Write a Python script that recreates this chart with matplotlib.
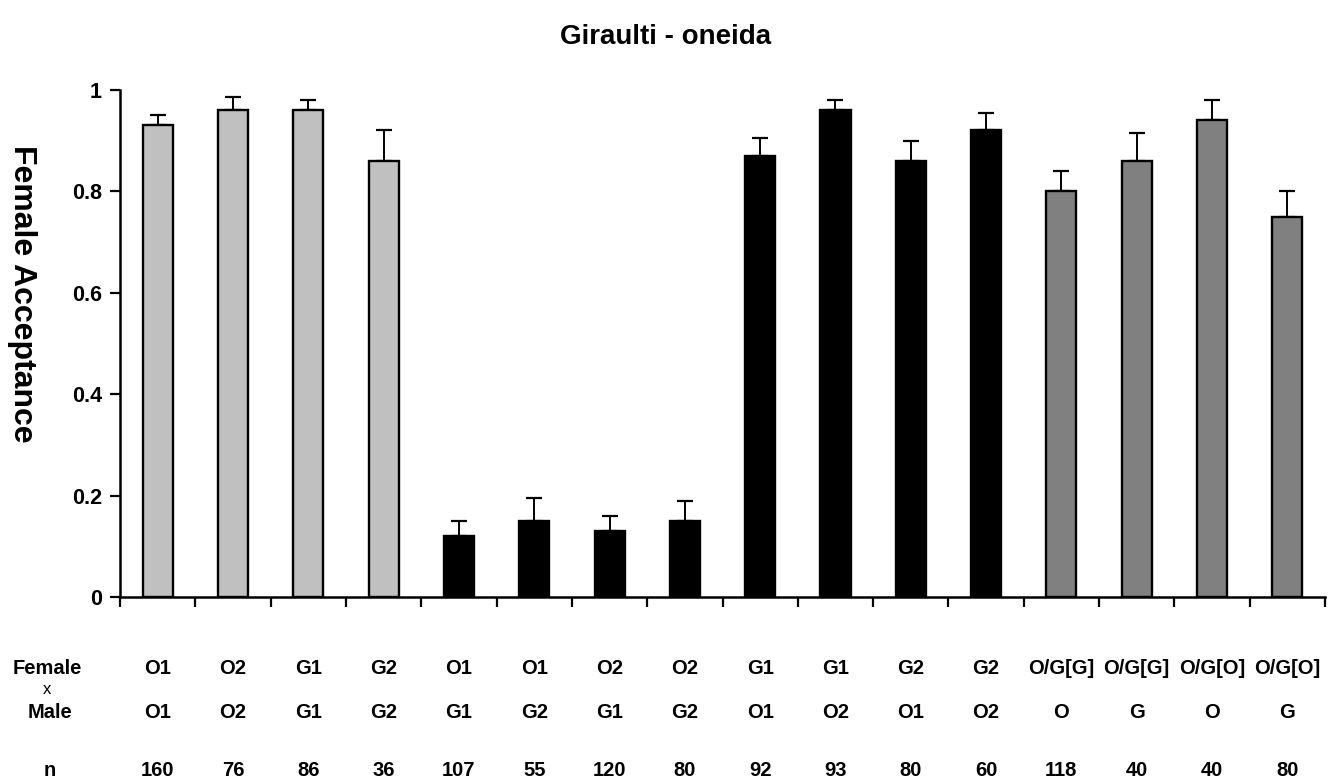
import matplotlib
matplotlib.use("Agg")
import matplotlib.pyplot as plt
import numpy as np

plt.rcParams['font.family'] = ['Liberation Sans', 'DejaVu Sans']
plt.rcParams['font.weight'] = 'bold'

female = ["O1", "O2", "G1", "G2", "O1", "O1", "O2", "O2",
          "G1", "G1", "G2", "G2", "O/G[G]", "O/G[G]", "O/G[O]", "O/G[O]"]
male = ["O1", "O2", "G1", "G2", "G1", "G2", "G1", "G2",
        "O1", "O2", "O1", "O2", "O", "G", "O", "G"]
n_values = [160, 76, 86, 36, 107, 55, 120, 80, 92, 93, 80, 60, 118, 40, 40, 80]
acceptance = [0.93, 0.96, 0.96, 0.86, 0.12, 0.15, 0.13, 0.15,
              0.87, 0.96, 0.86, 0.92, 0.80, 0.86, 0.94, 0.75]
errors = [0.02, 0.025, 0.02, 0.06, 0.03, 0.045, 0.03, 0.04,
          0.035, 0.02, 0.04, 0.035, 0.04, 0.055, 0.04, 0.05]
groups = ["within"] * 4 + ["hetero_o"] * 4 + ["hetero_g"] * 4 + ["hybrid"] * 4
group_colors = {"within": "#c0c0c0", "hetero_o": "#000000",
                "hetero_g": "#000000", "hybrid": "#808080"}

fig = plt.figure(figsize=(13.4, 7.81), dpi=100)
ax = fig.add_axes([0.0896, 0.2356, 0.8992, 0.6494])

x = np.arange(len(acceptance))
colors = [group_colors[g] for g in groups]
ax.bar(x, acceptance, width=0.4, color=colors, edgecolor="black", linewidth=1.7, zorder=2)
ax.errorbar(x, acceptance, yerr=[np.zeros(len(errors)), errors], fmt="none",
            ecolor="black", elinewidth=1.4, capsize=6, capthick=1.6, zorder=1)

ax.set_xlim(-0.5, len(acceptance) - 0.5)
ax.set_ylim(0, 1.0)
ax.set_yticks([0, 0.2, 0.4, 0.6, 0.8, 1.0])
ax.set_yticklabels(["0", "0.2", "0.4", "0.6", "0.8", "1"], fontsize=15.5, fontweight="bold")
ax.set_xticks(np.arange(len(acceptance) + 1) - 0.5)
ax.set_xticklabels([])
ax.tick_params(axis="both", direction="out", width=1.6, length=7, pad=6)
for side in ("top", "right"):
    ax.spines[side].set_visible(False)
for side in ("left", "bottom"):
    ax.spines[side].set_linewidth(1.8)

fig.text(22 / 1340, 1 - 294 / 781, "Female Acceptance", rotation=-90,
         ha="center", va="center", fontsize=23, fontweight="bold")

fig.text(0.497, 1 - 37 / 781, "Giraulti - oneida", ha="center", va="center",
         fontsize=20, fontweight="bold")

# table of crosses and sample sizes under the axis
row_y = {"female": 668, "x": 690, "male": 712, "n": 770}
row_y = {k: 1 - v / 781 for k, v in row_y.items()}
table_size = 14.5
to_fig = fig.transFigure.inverted()
for i in range(len(acceptance)):
    xf = to_fig.transform(ax.transData.transform((i, 0)))[0]
    fig.text(xf, row_y["female"], female[i], ha="center", va="center",
             fontsize=table_size, fontweight="bold")
    fig.text(xf, row_y["male"], male[i], ha="center", va="center",
             fontsize=table_size, fontweight="bold")
    fig.text(xf, row_y["n"], str(n_values[i]), ha="center", va="center",
             fontsize=table_size, fontweight="bold")

fig.text(0.035, row_y["female"], "Female", ha="center", va="center",
         fontsize=table_size, fontweight="bold")
fig.text(0.035, row_y["x"], "x", ha="center", va="center", fontsize=12, fontweight="normal")
fig.text(0.037, row_y["male"], "Male", ha="center", va="center",
         fontsize=table_size, fontweight="bold")
fig.text(0.037, row_y["n"], "n", ha="center", va="center",
         fontsize=table_size, fontweight="bold")

fig.savefig("out.png", dpi=100)
